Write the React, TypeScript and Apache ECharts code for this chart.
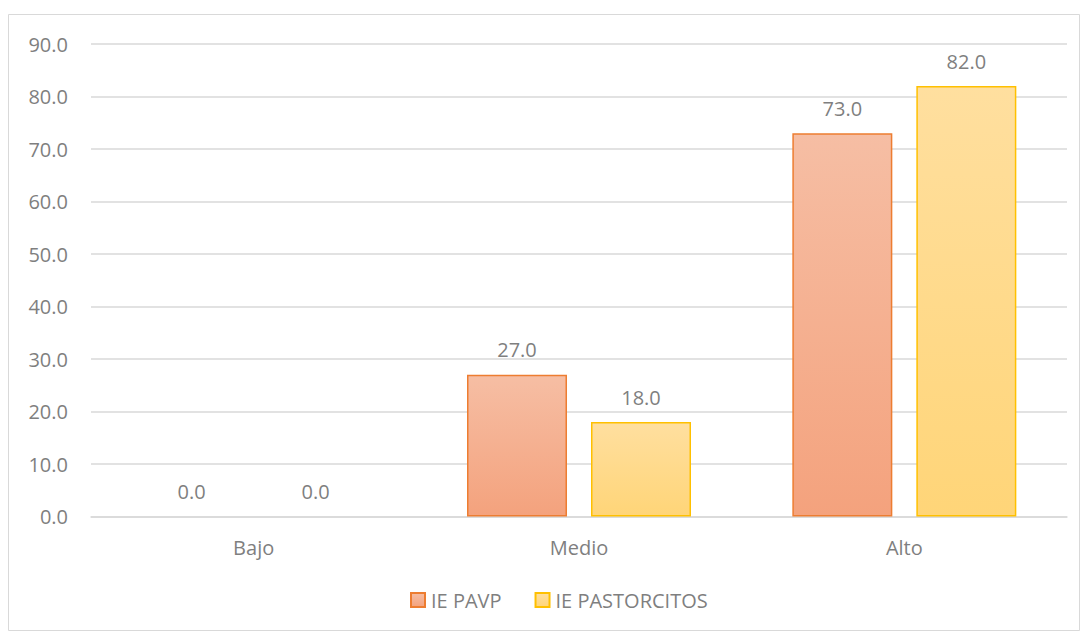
import React, { useEffect, useRef } from "react";
import * as echarts from "echarts";

const categories = ["Bajo", "Medio", "Alto"];
const seriesNames = ["IE PAVP", "IE PASTORCITOS"];
const pavpValues = [0, 27, 73];
const pastorcitosValues = [0, 18, 82];

const FONT = "'Open Sans', 'Noto Sans', sans-serif";
const GRAY = "#7f7f7f";
const FS = 20;

export default function App() {
  const ref = useRef<HTMLDivElement>(null);
  useEffect(() => {
    if (!ref.current) return;
    const chart = echarts.init(ref.current, null, { renderer: "svg" });
    const grad = (top: string, bottom: string) =>
      new echarts.graphic.LinearGradient(0, 0, 0, 1, [
        { offset: 0, color: top },
        { offset: 1, color: bottom },
      ]);
    const label = {
      show: true,
      position: "top" as const,
      distance: 15,
      color: GRAY,
      fontSize: FS,
      fontFamily: FONT,
      formatter: (p: any) => Number(p.value).toFixed(1),
    };
    const toItems = (vals: number[]) =>
      vals.map((v) =>
        v === 0
          ? { value: v, itemStyle: { borderWidth: 0, borderColor: "transparent", color: "transparent" } }
          : v
      );
    chart.setOption({
      animation: false,
      backgroundColor: "#ffffff",
      textStyle: { fontFamily: FONT },
      graphic: [
        {
          type: "rect",
          shape: { x: 8.5, y: 14.5, width: 1071, height: 616 },
          style: { fill: "none", stroke: "#d9d9d9", lineWidth: 1 },
          silent: true,
        },
      ],
      grid: { left: 91, right: 15, top: 44, bottom: 114.5, containLabel: false },
      legend: {
        bottom: 16,
        left: 405,
        itemWidth: 14,
        itemHeight: 14,
        itemGap: 33,
        icon: "rect",
        textStyle: { color: GRAY, fontSize: FS, fontFamily: FONT, padding: [0, 0, 0, 1] },
        data: seriesNames,
      },
      xAxis: {
        type: "category",
        data: categories,
        axisLine: { lineStyle: { color: "#d9d9d9", width: 1.5 } },
        axisTick: { show: false },
        axisLabel: { color: GRAY, fontSize: FS, fontFamily: FONT, margin: 21 },
      },
      yAxis: {
        type: "value",
        min: 0,
        max: 90,
        interval: 10,
        axisLine: { show: false },
        axisTick: { show: false },
        splitLine: { lineStyle: { color: "#d9d9d9", width: 1.5 } },
        axisLabel: {
          color: GRAY,
          fontSize: FS,
          fontFamily: FONT,
          margin: 23,
          formatter: (v: number) => v.toFixed(1),
        },
      },
      series: [
        {
          name: seriesNames[0],
          type: "bar",
          data: toItems(pavpValues),
          barWidth: 100,
          barGap: "24%",
          itemStyle: {
            color: grad("#f6bea4", "#f4a27d"),
            borderColor: "#ed7d31",
            borderWidth: 1.5,
          },
          label,
        },
        {
          name: seriesNames[1],
          type: "bar",
          data: toItems(pastorcitosValues),
          barWidth: 100,
          barGap: "24%",
          itemStyle: {
            color: grad("#ffdf9f", "#ffd578"),
            borderColor: "#ffc000",
            borderWidth: 1.5,
          },
          label,
        },
      ],
    });
    return () => chart.dispose();
  }, []);
  return (
    <div
      ref={ref}
      style={{ position: "absolute", left: 0, top: 0, width: 1082, height: 631 }}
    />
  );
}
